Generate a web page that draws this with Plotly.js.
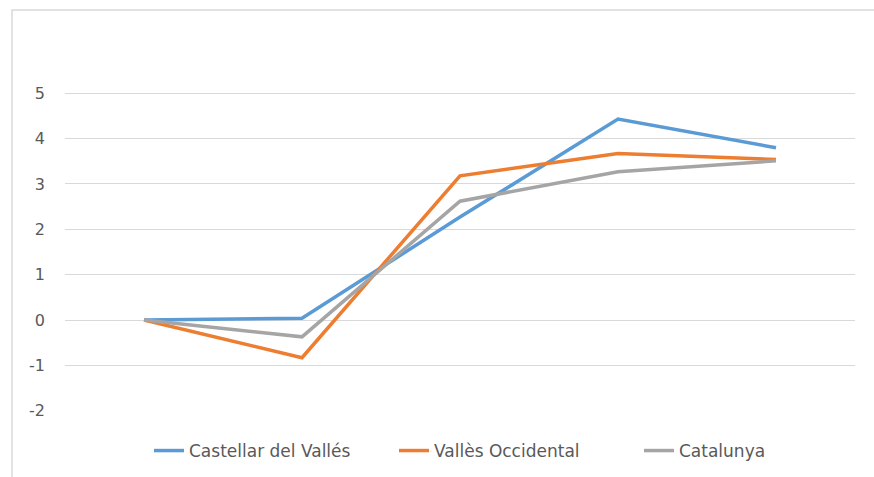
<!DOCTYPE html>
<html>
<head>
<meta charset="utf-8">
<script src="https://cdn.plot.ly/plotly-3.0.1.min.js"></script>
<style>html,body{margin:0;padding:0;background:#fff;}#chart{width:874px;height:477px;}</style>
</head>
<body>
<div id="chart"></div>
<script>
const categories = ["1", "2", "3", "4", "5"];
const seriesNames = ["Castellar del Vallés", "Vallès Occidental", "Catalunya"];
const castellar = [0, 0.04, 2.27, 4.43, 3.80];
const vallesOcc = [0, -0.83, 3.18, 3.67, 3.54];
const catalunya = [0, -0.37, 2.62, 3.27, 3.51];
const yTicks = [-2, -1, 0, 1, 2, 3, 4, 5];
const colors = ["#5B9BD5", "#ED7D31", "#A5A5A5"];

const series = [castellar, vallesOcc, catalunya];
const traces = series.map((vals, i) => ({
  type: "scatter",
  mode: "lines",
  x: categories.map((c, k) => k),
  y: vals,
  name: seriesNames[i],
  line: {color: colors[i], width: 3.5},
  hoverinfo: "skip"
}));

const L = 65, R = 19, T = 91, B = 65.8;
const W = 874 - L - R, H = 477 - T - B;
const px = v => (v - L) / W;
const py = v => (477 - B - v) / H;

const layout = {
  width: 874, height: 477,
  margin: {l: L, r: R, t: T, b: B, pad: 0},
  paper_bgcolor: "#ffffff",
  plot_bgcolor: "#ffffff",
  font: {family: "DejaVu Sans, sans-serif", size: 16, color: "#595959"},
  showlegend: true,
  legend: {orientation: "h", x: 149 / 874, xanchor: "left", xref: "container",
           y: (477 - 451) / 477, yanchor: "middle", yref: "container",
           entrywidth: 200, entrywidthmode: "pixels", bgcolor: "rgba(0,0,0,0)",
           font: {size: 17, color: "#595959"}, itemwidth: 30, traceorder: "normal"},
  xaxis: {range: [-0.5, 4.5], showticklabels: false, showgrid: false, zeroline: false,
          showline: false, ticks: "", fixedrange: true},
  yaxis: {range: [-2.005, 5.05], tickvals: yTicks, ticktext: yTicks.map(String),
          showgrid: true, gridcolor: "#D9D9D9", gridwidth: 1, zeroline: false,
          showline: false, ticks: "", ticklabelstandoff: 19, fixedrange: true,
          tickfont: {size: 16, color: "#595959"}},
  shapes: [{type: "rect", xref: "paper", yref: "paper", layer: "below",
            x0: px(12), x1: px(900), y0: py(500), y1: py(10),
            line: {color: "#D9D9D9", width: 1.5}, fillcolor: "rgba(0,0,0,0)"}]
};

Plotly.newPlot("chart", traces, layout, {displayModeBar: false, staticPlot: true});
</script>
</body>
</html>
